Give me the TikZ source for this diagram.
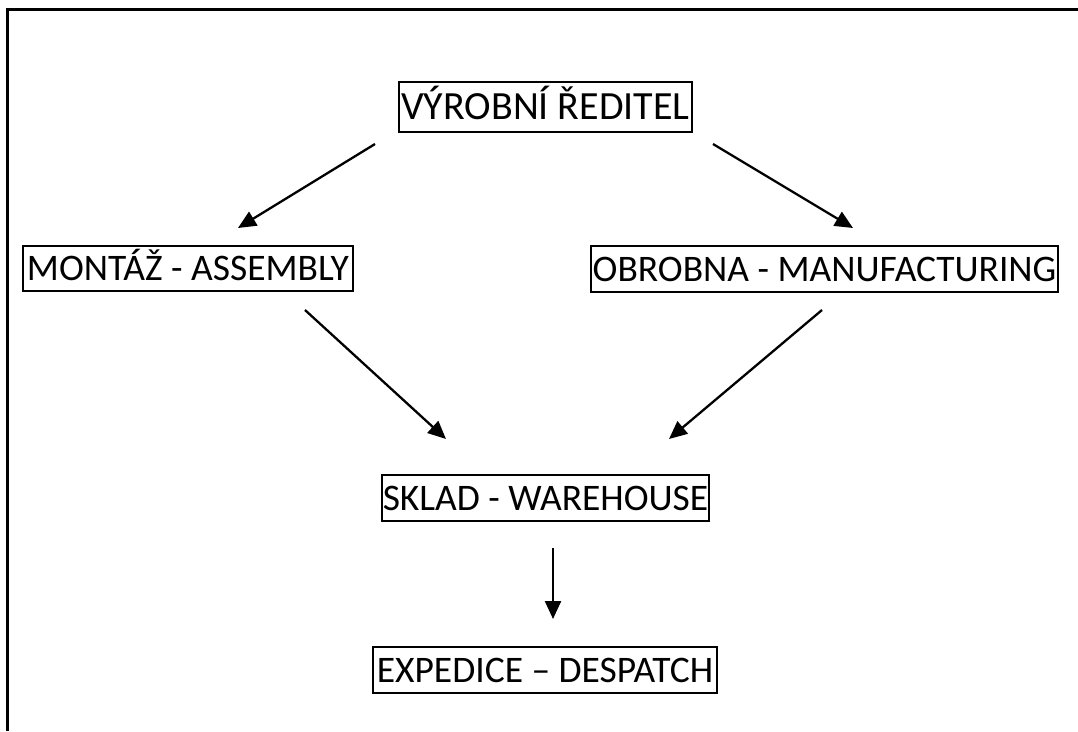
\documentclass[tikz,border=0pt]{standalone}
\usepackage{fontspec}
\setmainfont{Carlito}
\usetikzlibrary{arrows.meta}
\begin{document}
\begin{tikzpicture}[x=1pt,y=-1pt,
  box/.style={draw, line width=2pt, inner sep=0pt, text height=24pt, text depth=0pt,
    font=\fontsize{37.5}{40}\selectfont},
  conn/.style={line width=2.3pt, -{Triangle[length=18pt,width=16pt]}},
  frame/.style={line width=2.6pt}]
\useasboundingbox (0,0) rectangle (1078,731);
\draw[frame] (7.5,731) -- (7.5,9.5) -- (1078,9.5);

\node[box, minimum width=293pt, minimum height=50pt, text height=25.5pt, font=\fontsize{40}{42}\selectfont] (dir) at (545.5,107) {VÝROBNÍ ŘEDITEL};
\node[box, minimum width=330pt, minimum height=45pt] (mon) at (188,268.5) {MONTÁŽ - ASSEMBLY};
\node[box, minimum width=467pt, minimum height=46pt] (obr) at (824.5,269) {OBROBNA - MANUFACTURING};
\node[box, minimum width=327pt, minimum height=46pt] (skl) at (545.5,498) {SKLAD - WAREHOUSE};
\node[box, minimum width=344pt, minimum height=46pt] (exp) at (545,670) {EXPEDICE – DESPATCH};

\coordinate (a1s) at (375,144);
\coordinate (a1e) at (238,228);
\coordinate (a2s) at (713,144);
\coordinate (a2e) at (853,228);
\coordinate (a3s) at (305,310);
\coordinate (a3e) at (446,439);
\coordinate (a4s) at (822,310);
\coordinate (a4e) at (669,439);
\coordinate (a5s) at (553,548);
\coordinate (a5e) at (553,619);

\draw[conn] (a1s) -- (a1e);
\draw[conn] (a2s) -- (a2e);
\draw[conn] (a3s) -- (a3e);
\draw[conn] (a4s) -- (a4e);
\draw[conn] (a5s) -- (a5e);
\end{tikzpicture}
\end{document}
